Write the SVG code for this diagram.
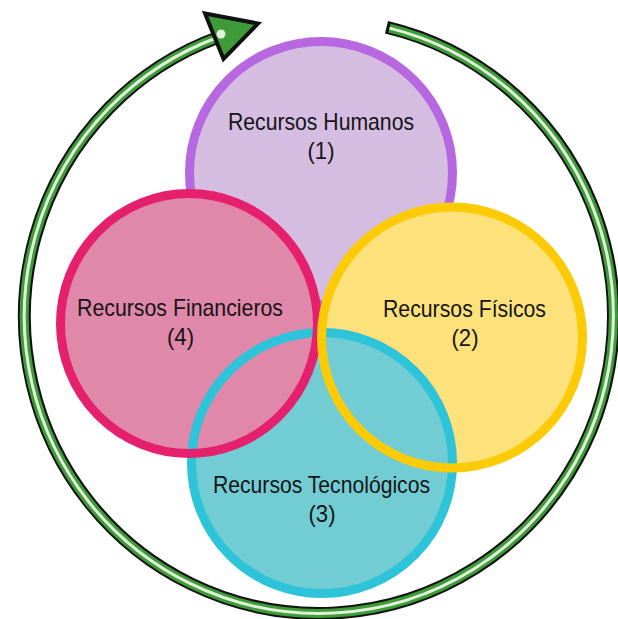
<svg xmlns="http://www.w3.org/2000/svg" width="618" height="619" viewBox="0 0 618 619">
  <style>
    .lbl { font-family: "Liberation Sans", Arial, sans-serif; font-size: 24px; fill: #141414; text-anchor: middle; }
    .ring-b { fill: none; stroke: #111111; stroke-width: 13; }
    .ring-g { fill: none; stroke: #3f9b3a; stroke-width: 9; }
    .ring-w { fill: none; stroke: #dff2d8; stroke-width: 3; }
  </style>
  <rect width="618" height="619" fill="#ffffff"/>

  <g id="connectors">
    <path class="ring-b" d="M 386.5,27.3 A 294.5 297 0 1 1 219,37"/>
    <path class="ring-g" d="M 389.5,28.1 A 294.5 297 0 1 1 219,37"/>
    <path class="ring-w" d="M 389.5,28.1 A 294.5 297 0 1 1 219,37"/>
    <polygon points="205,13.5 258,23.5 223.5,59" fill="#3f9b3a" stroke="#111111" stroke-width="4" stroke-linejoin="miter"/>
    <circle cx="221" cy="34" r="4.5" fill="#dff2d8"/>
  </g>

  <g id="node-humanos">
    <circle cx="321" cy="173" r="131.5" fill="#d5bde2" stroke="#b767df" stroke-width="9"/>
  </g>

  <g id="fills">
    <circle id="fill-fisicos" cx="452" cy="337.5" r="130.5" fill="#fde17a"/>
    <circle id="fill-tecnologicos" cx="322" cy="463" r="130.5" fill="#72ccd3"/>
    <ellipse id="fill-financieros" cx="189" cy="323.5" rx="128.5" ry="130" fill="#e088aa"/>
  </g>

  <g id="node-tecnologicos">
    <circle cx="322" cy="463" r="130.5" fill="none" stroke="#2dc3d8" stroke-width="9"/>
    <text class="lbl" x="321.5" y="493" textLength="217" lengthAdjust="spacingAndGlyphs">Recursos Tecnológicos</text>
    <text class="lbl" x="322" y="522" textLength="27" lengthAdjust="spacingAndGlyphs">(3)</text>
  </g>

  <g id="node-financieros">
    <ellipse cx="189" cy="323.5" rx="128.5" ry="130" fill="none" stroke="#e5206d" stroke-width="9"/>
    <text class="lbl" x="180" y="316" textLength="206" lengthAdjust="spacingAndGlyphs">Recursos Financieros</text>
    <text class="lbl" x="180.5" y="345" textLength="27" lengthAdjust="spacingAndGlyphs">(4)</text>
  </g>

  <g id="node-fisicos">
    <circle cx="452" cy="337.5" r="130.5" fill="none" stroke="#fdcb05" stroke-width="9"/>
    <text class="lbl" x="464.5" y="317" textLength="163" lengthAdjust="spacingAndGlyphs">Recursos Físicos</text>
    <text class="lbl" x="465" y="346" textLength="27" lengthAdjust="spacingAndGlyphs">(2)</text>
  </g>

  <g id="label-humanos">
    <text class="lbl" x="321" y="130" textLength="186" lengthAdjust="spacingAndGlyphs">Recursos Humanos</text>
    <text class="lbl" x="321" y="159" textLength="27" lengthAdjust="spacingAndGlyphs">(1)</text>
  </g>
</svg>
